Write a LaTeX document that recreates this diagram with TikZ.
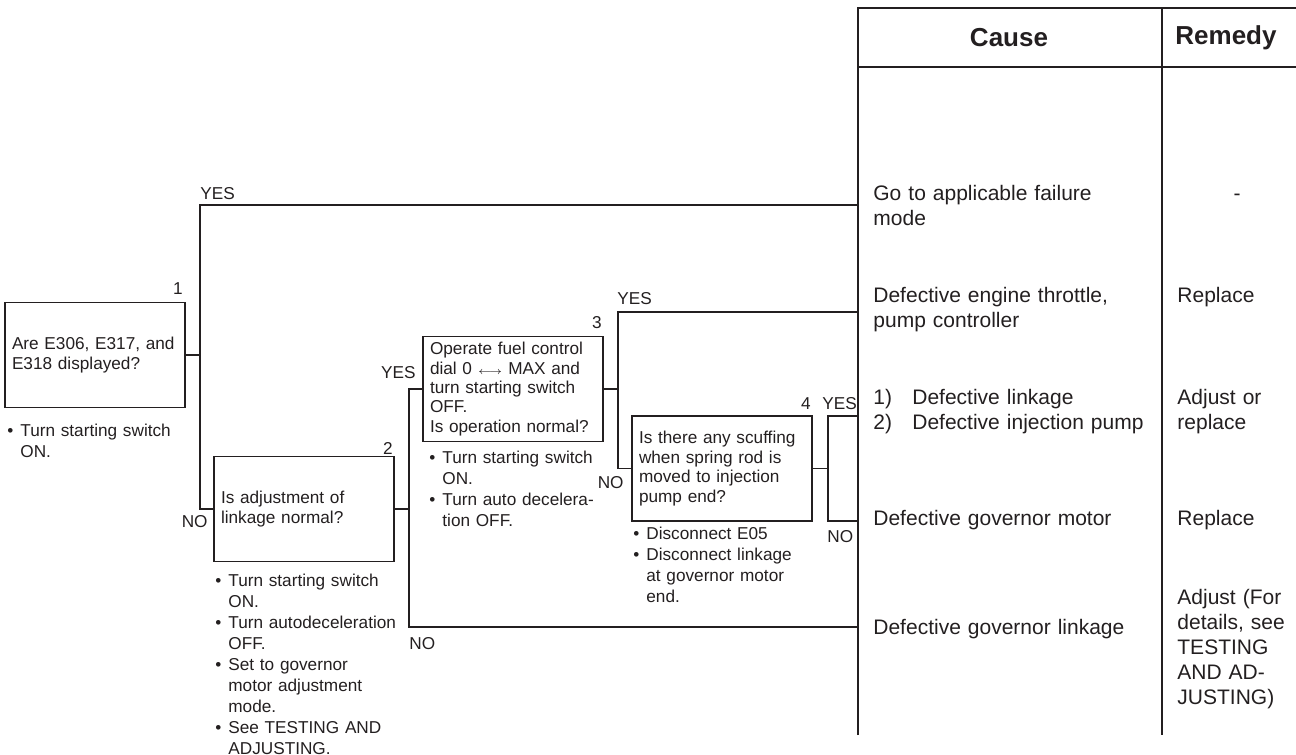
\documentclass[tikz,border=0pt]{standalone}
\usepackage{fontspec}
\setmainfont{Liberation Sans}
\usepackage{tikz}
\usetikzlibrary{positioning, calc}
\definecolor{tinta}{HTML}{231F20}
\newcommand{\punto}{\makebox[6.5pt][l]{\textbullet}}
\newcommand{\sangria}{\hspace*{6.5pt}}
\tikzset{
  every picture/.style={color=tinta},
  wire/.style={line width=0.65pt},
  qbox/.style={draw, line width=0.65pt, minimum width=90pt, minimum height=52.5pt,
               text width=83pt, inner xsep=3.5pt, inner ysep=1pt, align=left,
               font=\fontsize{8.6}{9.7}\selectfont},
  note/.style={anchor=base west, inner sep=0pt, text width=95pt, align=left,
               font=\fontsize{8.6}{10.5}\selectfont},
  tag/.style={inner sep=0pt, font=\fontsize{8.6}{10}\selectfont},
  cell/.style={anchor=base west, inner sep=0pt, text width=140pt, align=left,
               font=\fontsize{10.5}{12.5}\selectfont},
  rcell/.style={cell, text width=60pt},
  head/.style={inner sep=0pt, font=\bfseries\fontsize{13}{15}\selectfont},
}
\begin{document}
\begin{tikzpicture}[x=0.5pt, y=-0.5pt]
  \useasboundingbox (0,0) rectangle (1296,755);
  % table frame
  \coordinate (tl) at (858,8);
  \coordinate (tm) at (1162,8);
  \coordinate (tr) at (1296,8);
  \draw[wire] (858,735) -- (tl) -- (tr);
  \draw[wire] (858,67) -- (1296,67);
  \draw[wire] (tm) -- (1162,735);
  \node[head] (hcause) at (1009,37.5) {Cause};
  \node[head] (hremedy) at (1226,37.5) {Remedy};
  % causes
  \node[cell] (c1) at (873,200) {Go to applicable failure\\mode};
  \node[cell] (c2) at (873,302.5) {Defective engine throttle,\\pump controller};
  \node[cell] (c3) at (873,404.5) {\makebox[19.5pt][l]{1)}Defective linkage\\\makebox[19.5pt][l]{2)}Defective injection pump};
  \node[cell] (c4) at (873,525.5) {Defective governor motor};
  \node[cell] (c5) at (873,634.5) {Defective governor linkage};
  % remedies
  \node[tag, anchor=base, font=\fontsize{10.5}{12.5}\selectfont] (m1) at (1237,200) {-};
  \node[rcell] (m2) at (1177,302.5) {Replace};
  \node[rcell] (m3) at (1177,404.5) {Adjust or\\replace};
  \node[rcell] (m4) at (1177,525.5) {Replace};
  \node[rcell] (m5) at (1177,604.5) {Adjust (For\\details, see\\TESTING\\AND AD-\\JUSTING)};
  % checks
  \node[qbox] (b1) at (95,355) {Are E306, E317, and\\E318 displayed?};
  \node[qbox] (b2) at (304,509) {Is adjustment of\\linkage normal?};
  \node[qbox] (b3) at (513,389) {Operate fuel control\\dial 0 {\fontsize{4.7}{5}\selectfont$\longleftrightarrow$} MAX and\\turn starting switch\\OFF.\\Is operation normal?};
  \node[qbox] (b4) at (722,468.5) {Is there any scuffing\\when spring rod is\\moved to injection\\pump end?};
  \node[tag, anchor=base east] (n1) at (183,294) {1};
  \node[tag, anchor=base east] (n2) at (393,454) {2};
  \node[tag, anchor=base east] (n3) at (602,328) {3};
  \node[tag, anchor=base east] (n4) at (811,409) {4};
  % notes
  \node[note] (t1) at (7,436) {\punto Turn starting switch\\\sangria ON.};
  \node[note] (t2) at (215,586) {\punto Turn starting switch\\\sangria ON.\\\punto Turn autodeceleration\\\sangria OFF.\\\punto Set to governor\\\sangria motor adjustment\\\sangria mode.\\\punto See TESTING AND\\\sangria ADJUSTING.};
  \node[note] (t3) at (429,463) {\punto Turn starting switch\\\sangria ON.\\\punto Turn auto decelera-\\\sangria tion OFF.};
  \node[note] (t4) at (633,539) {\punto Disconnect E05\\\punto Disconnect linkage\\\sangria at governor motor\\\sangria end.};
  % answers
  \node[tag, anchor=base west] (y1) at (200,199) {YES};
  \node[tag, anchor=base east] (no1) at (208,527) {NO};
  \node[tag, anchor=base east] (y2) at (416,378) {YES};
  \node[tag, anchor=base west] (no2) at (409,649) {NO};
  \node[tag, anchor=base west] (y3) at (617,304) {YES};
  \node[tag, anchor=base east] (no3) at (624,488) {NO};
  \node[tag, anchor=base west] (y4) at (822,409) {YES};
  \node[tag, anchor=base west] (no4) at (827,542) {NO};
  % connectors
  \foreach \n/\x in {1/200,2/409,3/618,4/828} \coordinate (j\n) at (\x,0);
  \foreach \n/\y in {1/205,2/312,3/416,4/521,5/627} \coordinate (r\n) at (858,\y);
  \draw[wire] (b1.east) -- (b1.east -| j1);
  \draw[wire] (r1) -| (j1 |- b2.west) -- (b2.west);
  \draw[wire] (b2.east) -- (b2.east -| j2);
  \draw[wire] (b3.west) -- (b3.west -| j2) |- (r5);
  \draw[wire] (b3.east) -- (b3.east -| j3);
  \draw[wire] (r2) -| (j3 |- b4.west) -- (b4.west);
  \draw[wire] (b4.east) -- (b4.east -| j4);
  \draw[wire] (r3) -| (j4 |- r4) -- (r4);
\end{tikzpicture}
\end{document}
